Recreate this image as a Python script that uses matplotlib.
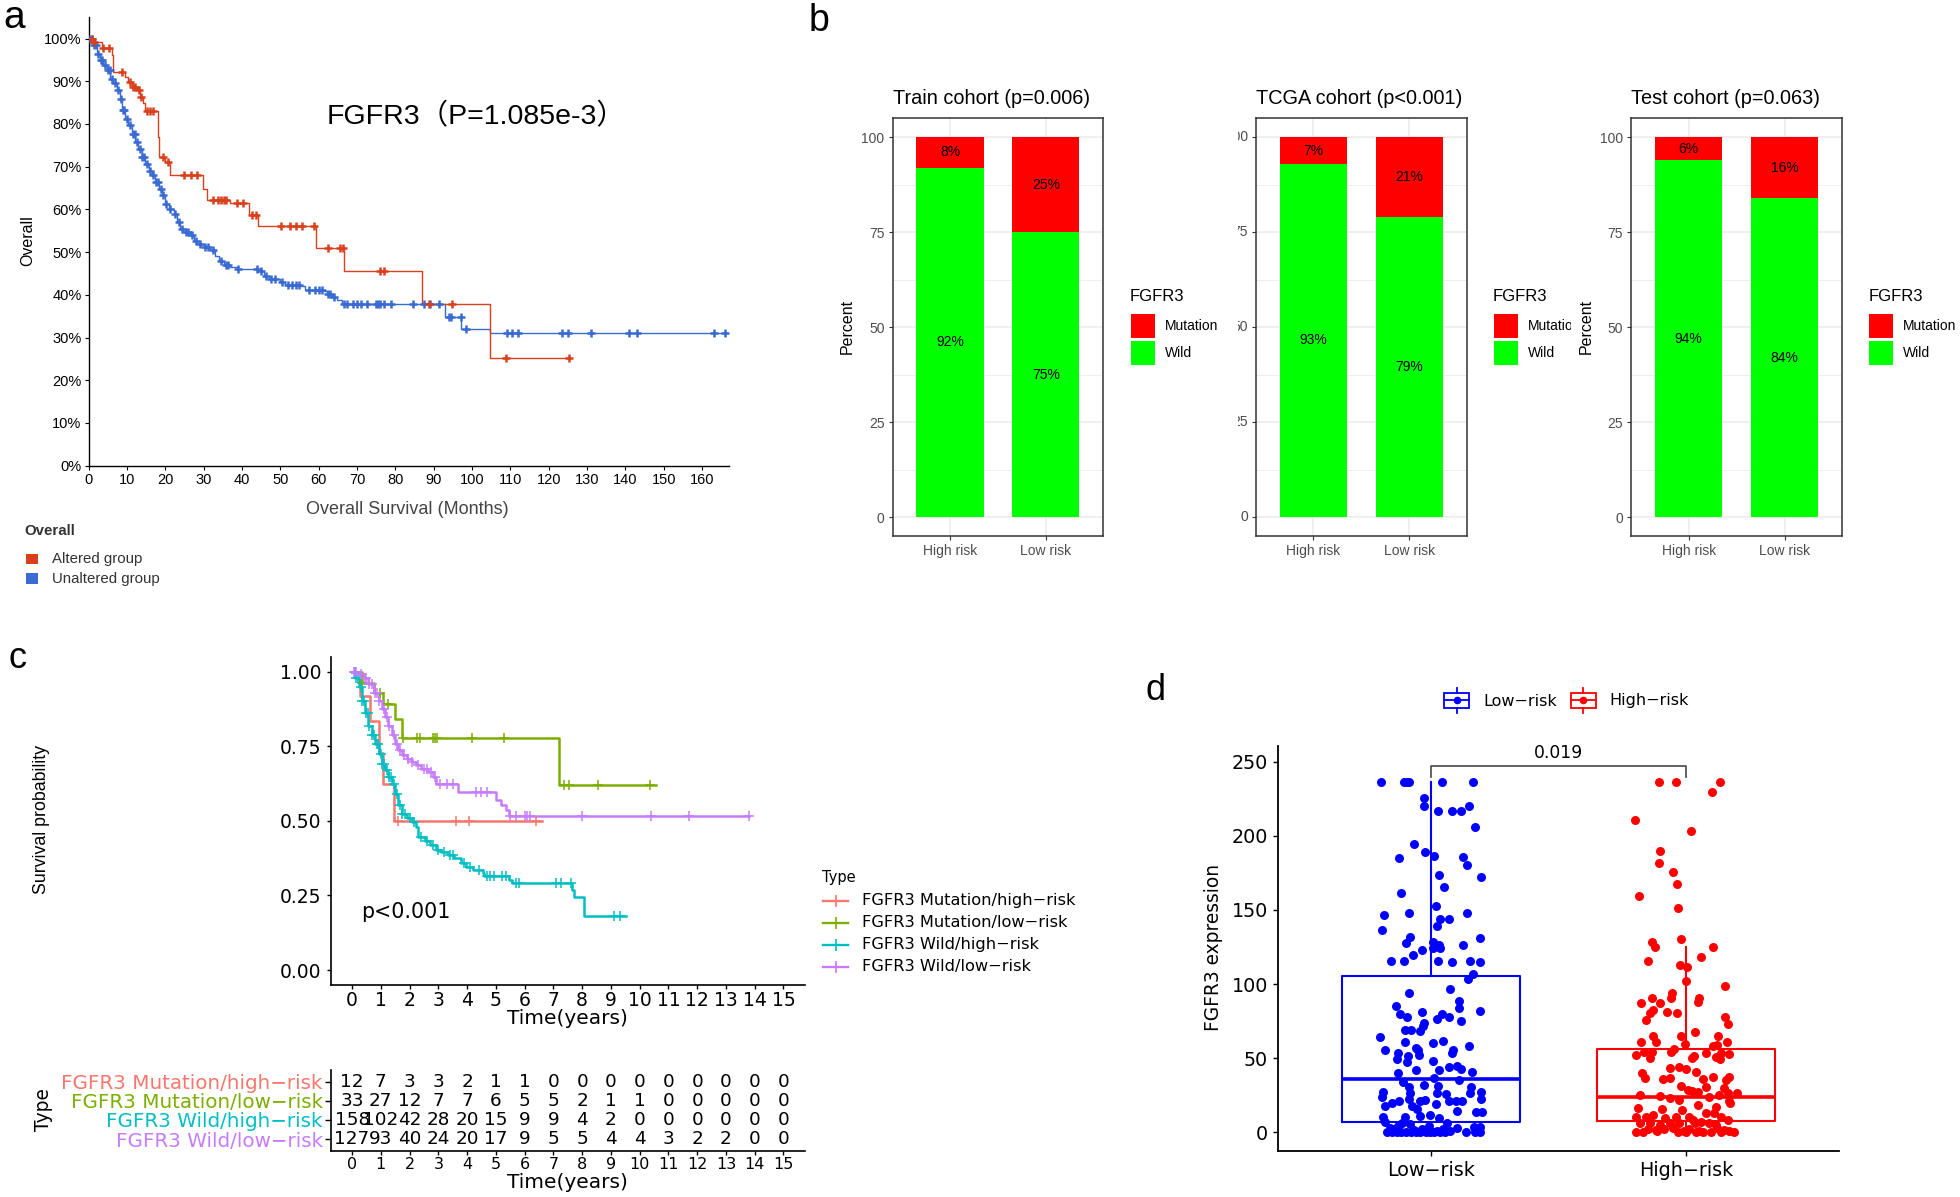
import numpy as np
import matplotlib
matplotlib.use('Agg')
import matplotlib.pyplot as plt
from matplotlib.patches import Rectangle
from matplotlib.lines import Line2D
from matplotlib.transforms import Bbox, blended_transform_factory

plt.rcParams['font.family'] = ['Liberation Sans', 'DejaVu Sans', 'Noto Sans CJK SC']

# ---------------- DATA ----------------
# Panel a (months, % survival)
alt_t = [0, 1.5, 3.5, 6.1, 6.5, 9.6, 10.4, 11.3, 12.6, 13.5, 14.2, 14.8, 18.0, 18.4, 20.0, 21.3,
         29.8, 30.9, 37.0, 41.9, 44.3, 59.3, 66.5, 87.0, 104.6]
alt_s = [100, 99.2, 97.7, 96.1, 92.2, 91.0, 89.8, 88.7, 87.9, 86.3, 84.8, 83.0, 77.0, 72.3, 71.1, 68.0,
         64.8, 62.3, 61.5, 58.6, 56.1, 51.0, 45.5, 37.9, 25.2]
alt_end = 125.3
alt_cens = [1.0, 1.5, 3.7, 5.3, 8.7, 10.9, 11.7, 12.2, 13.1, 13.8, 15.2, 16.0, 16.8, 19.3, 20.8, 24.9,
            26.6, 28.4, 32.4, 33.7, 34.5, 35.3, 35.8, 38.7, 40.3, 42.6, 43.6, 50.1, 52.6, 54.2, 55.7,
            58.9, 62.5, 65.5, 66.3, 76.1, 77.1, 88.8, 94.8, 108.9, 125.3]

unalt_t = [0, 1.3, 2.2, 3.0, 3.9, 4.8, 5.7, 6.5, 7.4, 8.3, 8.7, 9.6, 10.4, 11.3, 12.2, 13.0, 13.9, 14.8,
           15.7, 16.5, 17.4, 18.3, 19.1, 20.0, 20.9, 22.2, 23.0, 23.9, 25.2, 26.5, 27.4, 28.7, 30.0,
           31.7, 33.0, 33.9, 35.2, 37.0, 38.7, 44.3, 45.7, 47.0, 50.0, 51.3, 55.2, 56.5, 61.3, 62.2,
           63.5, 64.8, 66.1, 93.0, 97.1, 104.8]
unalt_s = [100, 98.4, 96.5, 94.9, 93.75, 92.6, 90.6, 89.5, 87.9, 85.9, 83.2, 81.25, 79.7, 77.7, 75.8,
           74.2, 72.3, 70.7, 69.1, 68.0, 66.4, 64.8, 63.3, 61.3, 60.2, 59.0, 57.0, 55.5, 54.7, 53.9,
           52.7, 52.0, 51.3, 50.4, 49.2, 48.0, 46.9, 46.5, 46.1, 45.5, 44.5, 43.6, 43.0, 42.4, 42.0,
           41.2, 40.9, 40.1, 39.6, 38.7, 37.9, 34.9, 32.0, 31.1]
unalt_end = 166.5
unalt_cens = [0.5, 1, 1.5, 2, 2.5, 3.2, 3.6, 4.2, 5, 5.5, 6, 7, 7.8, 8.5, 9, 9.3, 10, 10.8, 11.5, 12,
              12.6, 13.3, 14, 14.5, 15.2, 16, 16.8, 17.6, 18, 18.8, 19.5, 20.3, 21.2, 22.5, 23.5, 24.5,
              25.5, 26, 27, 28, 29, 30.5, 31.2, 32.5, 34.5, 35.8, 36.3, 39, 44, 45, 46.3, 47.5, 48.5,
              50.5, 52, 53, 54, 55, 57.5, 59, 60, 61, 62.5, 63, 64, 66.5, 67.5, 69, 70, 71, 72.5, 75,
              75.5, 76, 77, 79, 84.5, 87.5, 89, 91.5, 94, 94.5, 97, 98.5, 109, 110.5, 112, 123.5, 125,
              131, 141, 143, 163, 166]

# Panel b
cohorts = ['Train cohort (p=0.006)', 'TCGA cohort (p<0.001)', 'Test cohort (p=0.063)']
risk_groups = ['High risk', 'Low risk']
wild_pct = [[92, 75], [93, 79], [94, 84]]
mut_pct = [[8, 25], [7, 21], [6, 16]]

# Panel c (years, survival probability)
km_names = ['FGFR3 Mutation/high\u2212risk', 'FGFR3 Mutation/low\u2212risk',
            'FGFR3 Wild/high\u2212risk', 'FGFR3 Wild/low\u2212risk']
km_colors = ['#F8766D', '#7CAE00', '#00BFC4', '#C77CFF']
mh_t = [0, 0.29, 0.61, 0.92, 1.09, 1.46]
mh_s = [1, 0.917, 0.833, 0.727, 0.623, 0.50]
mh_end = 6.6
mh_cens = [1.59, 3.62, 4.08, 6.4]
ml_t = [0, 0.34, 0.75, 1.09, 1.49, 1.72, 7.18]
ml_s = [1, 0.963, 0.93, 0.893, 0.841, 0.777, 0.621]
ml_end = 10.57
ml_cens = [0.35, 0.98, 1.26, 1.78, 2.26, 2.36, 2.82, 2.88, 2.95, 4.17, 5.29, 7.36, 7.55, 8.56, 10.37]
wh_t = [0, 0.11, 0.23, 0.34, 0.46, 0.57, 0.69, 0.80, 0.92, 1.03, 1.15, 1.26, 1.38, 1.49, 1.61, 1.72,
        1.90, 2.07, 2.22, 2.30, 2.53, 2.70, 2.93, 3.10, 3.33, 3.56, 3.79, 3.97, 4.20, 4.54, 4.60,
        5.46, 5.55, 7.64, 7.70, 8.05]
wh_s = [1, 0.98, 0.947, 0.902, 0.863, 0.819, 0.786, 0.758, 0.724, 0.691, 0.669, 0.647, 0.624, 0.591,
        0.552, 0.524, 0.508, 0.497, 0.48, 0.447, 0.433, 0.419, 0.404, 0.397, 0.386, 0.374, 0.358,
        0.344, 0.336, 0.324, 0.316, 0.302, 0.291, 0.269, 0.244, 0.182]
wh_end = 9.54
wh_cens = [0.1, 0.15, 0.2, 0.3, 0.35, 0.4, 0.5, 0.55, 0.6, 0.7, 0.75, 0.85, 0.9, 1.0, 1.05, 1.1, 1.2,
           1.3, 1.35, 1.45, 1.55, 1.65, 1.75, 1.85, 2.0, 2.15, 2.4, 2.6, 2.8, 3.0, 3.2, 3.4, 3.5, 3.9,
           4.1, 4.4, 4.7, 4.8, 4.95, 5.2, 5.35, 5.7, 5.8, 7.1, 7.25, 7.6, 9.1, 9.3]
wl_t = [0, 0.23, 0.40, 0.57, 0.75, 0.92, 1.03, 1.15, 1.26, 1.38, 1.49, 1.61, 1.72, 1.90, 2.07, 2.24,
        2.41, 2.64, 2.82, 2.93, 3.68, 5.0, 5.17, 5.34, 5.44]
wl_s = [1, 0.993, 0.98, 0.958, 0.93, 0.902, 0.874, 0.847, 0.819, 0.786, 0.758, 0.736, 0.719, 0.708,
        0.697, 0.686, 0.674, 0.663, 0.647, 0.624, 0.597, 0.569, 0.552, 0.536, 0.517]
wl_end = 13.79
wl_cens = [0.05, 0.15, 0.3, 0.45, 0.5, 0.6, 0.7, 0.8, 0.85, 0.95, 1.1, 1.2, 1.3, 1.45, 1.55, 1.65, 1.8,
           1.95, 2.1, 2.3, 2.5, 2.6, 2.75, 2.9, 3.05, 3.3, 3.5, 4.3, 4.5, 4.7, 5.5, 5.7, 6.0, 6.1, 6.2,
           8.0, 10.4, 11.7, 13.8]

risk_times = list(range(16))
risk_mh = [12, 7, 3, 3, 2, 1, 1, 0, 0, 0, 0, 0, 0, 0, 0, 0]
risk_ml = [33, 27, 12, 7, 7, 6, 5, 5, 2, 1, 1, 0, 0, 0, 0, 0]
risk_wh = [158, 102, 42, 28, 20, 15, 9, 9, 4, 2, 0, 0, 0, 0, 0, 0]
risk_wl = [127, 93, 40, 24, 20, 17, 9, 5, 5, 4, 4, 3, 2, 2, 0, 0]

# Panel d
d_groups = ['Low\u2212risk', 'High\u2212risk']
box_q1 = [6.7, 7.9]
box_med = [35.7, 23.6]
box_q3 = [105.4, 56.0]
box_whislo = [0, 0]
box_whishi = [236.5, 124.8]
p_value_d = '0.019'
bracket_y = 247.1
bracket_tip = 239.6

low_off = [-0.194, -0.107, -0.094, -0.085, 0.043, 0.167, -0.027, -0.025, 0.027, 0.082, 0.118, 0.151,
           0.172, -0.065, -0.023, 0.013, -0.124, 0.125, 0.143, 0.197, 0.030, 0.053, -0.117, 0.022,
           -0.182, -0.085, 0.141, 0.070, 0.034, 0.025, -0.193, -0.081, 0.194, -0.096, 0.009, 0.030,
           0.125, 0.008, 0.036, -0.033, -0.070, -0.156, -0.105, 0.026, 0.081, 0.152, 0.194, 0.165,
           0.145, -0.087, 0.076, 0.111, 0.112, 0.194, -0.138, -0.120, -0.092, -0.036, 0.023, 0.044,
           0.070, 0.117, -0.026, -0.031, -0.044, -0.103, -0.078, -0.198, -0.100, 0.010, 0.049, 0.151,
           -0.060, -0.052, 0.086, 0.082, -0.180, -0.128, -0.089, -0.047, -0.132, -0.095, 0.010, 0.073,
           0.102, 0.120, -0.057, 0.031, -0.128, 0.161, 0.014, 0.112, -0.109, -0.086, -0.025, 0.026,
           0.158, -0.188, -0.190, -0.083, 0.023, 0.059, 0.197, 0.154, -0.151, -0.124, -0.086, -0.044,
           -0.023, 0.070, 0.099, 0.121, 0.198, -0.180, -0.073, 0.021, -0.055, 0.103, 0.176, 0.199,
           -0.189, -0.103, -0.044, -0.003, 0.030, 0.064, -0.181, -0.130, 0.102, 0.169, 0.191,
           -0.172, -0.152, -0.133, -0.117, -0.096, -0.078, -0.057, -0.042, -0.021, -0.005, 0.014,
           0.036, 0.057, 0.138, 0.173, 0.193, -0.146, -0.068, -0.034, 0.023, 0.049, -0.159, -0.009,
           -0.081, 0.076, -0.113]
low_val = [236.6, 236.6, 236.6, 236.6, 236.6, 236.6, 225.8, 219.9, 217.0, 216.8, 216.8, 220.1,
           206.2, 194.3, 188.9, 186.4, 184.8, 186.0, 180.3, 172.5, 173.6, 165.7, 161.7, 152.9,
           146.6, 147.7, 148.0, 143.9, 143.7, 139.2, 136.5, 132.0, 131.3, 128.0, 128.6, 126.4,
           126.4, 124.1, 124.1, 123.0, 119.4, 115.6, 115.8, 115.6, 115.1, 115.6, 115.1, 107.0,
           103.2, 93.8, 96.5, 88.8, 83.7, 81.9, 85.0, 79.8, 77.6, 81.2, 76.2, 79.8,
           78.0, 75.3, 73.5, 71.7, 68.4, 69.0, 69.0, 64.5, 61.2, 60.5, 61.6, 58.2,
           56.7, 55.5, 55.5, 53.7, 55.5, 53.7, 51.5, 51.9, 49.2, 47.2, 48.3, 43.8,
           44.7, 42.9, 42.0, 42.0, 39.8, 40.5, 36.9, 35.3, 34.2, 30.8, 31.9, 31.3,
           30.8, 27.0, 24.1, 26.3, 26.3, 25.9, 27.0, 26.3, 20.0, 21.4, 22.3, 21.1,
           21.8, 21.4, 21.1, 21.4, 22.3, 18.0, 17.8, 19.1, 15.5, 14.6, 13.5, 13.5,
           10.6, 10.1, 11.0, 11.7, 9.4, 6.5, 7.2, 4.3, 2.7, 3.4, 3.8,
           0.4, 0.3, 0.5, 0.4, 0.3, 0.5, 0.4, 0.3, 0.5, 0.4, 0.3,
           0.5, 0.4, 0.3, 0.5, 0.4, 2.0, 1.5, 2.5, 1.2, 2.2, 3.0, 4.5,
           5.5, 1.0, 6.0]

high_off = [-0.108, -0.039, 0.133, 0.103, -0.200, 0.020, -0.102, -0.105, -0.051, -0.034, -0.185,
            -0.030, -0.022, -0.133, -0.122, 0.105, 0.057, -0.148, -0.025, 0.004, -0.001, 0.154,
            -0.135, -0.061, -0.055, 0.052, 0.047, -0.104, -0.177, -0.130, -0.140, -0.076, -0.035,
            -0.156, 0.151, 0.165, 0.036, -0.130, -0.020, 0.124, -0.178, -0.120, -0.005, 0.159,
            0.120, 0.107, -0.195, -0.164, -0.133, -0.143, -0.061, -0.046, 0.024, 0.076, 0.168,
            0.138, 0.029, 0.133, 0.117, -0.174, -0.163, -0.065, -0.029, 0.000, 0.039, -0.091,
            -0.063, 0.107, 0.065, 0.169, 0.156, -0.020, 0.078, 0.150, -0.182, -0.104, 0.009,
            0.047, 0.023, 0.198, 0.163, 0.130, 0.091, -0.065, -0.026, 0.169, 0.172, -0.190,
            -0.096, -0.018, 0.117, 0.046, -0.198, -0.159, -0.130, -0.081, -0.039, 0.013, 0.078,
            0.111, 0.137, 0.163, 0.026, 0.059, -0.182, -0.143, -0.104, -0.065, -0.026, 0.033,
            0.091, 0.117, -0.198, -0.169, -0.115, -0.033, 0.000, 0.039, -0.007, 0.065, 0.098,
            0.137, 0.169, 0.189, -0.150, -0.085, -0.050, 0.010, 0.120, 0.150, -0.120, 0.050]
high_val = [236.6, 236.6, 236.6, 229.8, 210.7, 203.5, 190.0, 181.7, 175.8, 167.5, 159.7,
            151.1, 130.4, 128.4, 124.8, 124.8, 118.1, 115.6, 113.1, 111.3, 102.3, 98.5,
            90.8, 90.4, 93.8, 90.4, 88.1, 87.0, 87.0, 82.5, 80.3, 81.4, 80.3,
            75.8, 77.6, 73.1, 67.9, 65.2, 65.0, 65.0, 60.7, 60.7, 59.6, 60.7,
            58.9, 58.2, 52.2, 54.4, 54.0, 49.9, 54.4, 56.2, 49.9, 53.3, 52.8,
            53.7, 51.5, 49.2, 51.0, 40.3, 36.4, 43.2, 43.8, 42.7, 40.9, 35.8,
            36.4, 37.5, 36.0, 37.5, 35.3, 31.3, 30.8, 29.7, 25.2, 24.7, 28.6,
            27.4, 27.9, 26.8, 26.3, 25.2, 24.1, 22.9, 21.8, 21.4, 19.6, 16.2,
            15.5, 15.1, 17.3, 18.4, 10.6, 10.6, 11.7, 9.4, 10.1, 10.1, 13.3,
            12.8, 10.1, 8.3, 8.3, 7.2, 6.1, 6.1, 4.9, 6.5, 6.1, 6.5,
            6.1, 4.9, 0.5, 0.3, 0.6, 0.4, 0.5, 0.3, 0.6, 0.4, 0.5,
            0.3, 0.6, 0.4, 2.5, 2.0, 3.0, 2.2, 2.8, 1.5, 1.8, 1.2]

# ---------------- FIGURE ----------------
W, H = 1960, 1197
fig = plt.figure(figsize=(W / 100, H / 100), dpi=100)
DJ = 'DejaVu Sans'


def add_ax(l, t, r, b):
    return fig.add_axes([l / W, 1 - b / H, (r - l) / W, (b - t) / H])


def ftext(x, y, s, **kw):
    return fig.text(x / W, 1 - y / H, s, **kw)


def frect(x0, y0, x1, y1, **kw):
    r = Rectangle((x0 / W, 1 - y1 / H), (x1 - x0) / W, (y1 - y0) / H, transform=fig.transFigure, **kw)
    fig.add_artist(r)
    return r


def fline(xs, ys, **kw):
    ln = Line2D([x / W for x in xs], [1 - y / H for y in ys], transform=fig.transFigure, **kw)
    fig.add_artist(ln)
    return ln


def surv_at(t, s, c):
    idx = np.searchsorted(np.asarray(t), np.asarray(c), side='right') - 1
    return np.asarray(s)[idx]


def km(ax, t, s, end, cens, color, lw, ms, mew):
    ax.step(list(t) + [end], list(s) + [s[-1]], where='post', color=color, lw=lw, zorder=3)
    ax.plot(cens, surv_at(t, s, cens), ls='none', marker='+', color=color, ms=ms, mew=mew, zorder=4)


# ---------- Panel a ----------
red_a, blue_a = '#D9401C', '#3A6BD2'
ax = add_ax(88.5, 17.2, 729.4, 465.7)
km(ax, unalt_t, unalt_s, unalt_end, unalt_cens, blue_a, 1.0, 6, 1.8)
km(ax, alt_t, alt_s, alt_end, alt_cens, red_a, 1.0, 6, 1.8)
ax.set_xlim(0, 167.1)
ax.set_ylim(0, 105)
for sp in ['top', 'right']:
    ax.spines[sp].set_visible(False)
for sp in ['left', 'bottom']:
    ax.spines[sp].set_linewidth(1.0)
ax.set_xticks(range(0, 161, 10))
ax.set_yticks(range(0, 101, 10))
ax.set_yticklabels([f'{v}%' for v in range(0, 101, 10)])
ax.tick_params(length=3, width=0.8, labelsize=10.5, pad=2)
ftext(476, 116.7, 'FGFR3\uff08P=1.085e-3\uff09', fontsize=20.5, ha='center', va='center',
      family=['Liberation Sans', 'Noto Sans CJK SC'])
ftext(407, 509, 'Overall Survival (Months)', fontsize=13, ha='center', va='center', color='#444444')
ftext(27.3, 241, 'Overall', fontsize=11.5, rotation=90, ha='center', va='center')
ftext(24, 531, 'Overall', fontsize=10.8, fontweight='bold', ha='left', va='center', color='#333333')
frect(26.3, 553.7, 38.3, 564.4, color=red_a, lw=0)
frect(26.3, 573.2, 38.3, 584.0, color=blue_a, lw=0)
ftext(51.7, 559, 'Altered group', fontsize=10.8, ha='left', va='center', color='#333333')
ftext(51.7, 578.6, 'Unaltered group', fontsize=10.8, ha='left', va='center', color='#333333')

# ---------- Panel b ----------
panel_lr = [(892.5, 1103.3), (1255.7, 1466.8), (1631.1, 1842.1)]
leg_x = [1130.7, 1493.6, 1869.0]
clip_regions = [(0, 1235), (1238, 1571), (1571, W)]
for k in range(3):
    l, r = panel_lr[k]
    ax = add_ax(l, 118.3, r, 536)
    xs = np.arange(1, 3)
    ax.bar(xs, wild_pct[k], 0.7, color='#00FF00', zorder=2)
    ax.bar(xs, mut_pct[k], 0.7, bottom=wild_pct[k], color='#FF0000', zorder=2)
    for i in range(2):
        ax.text(xs[i], wild_pct[k][i] / 2, f'{wild_pct[k][i]}%', ha='center', va='center', fontsize=10, zorder=3)
        ax.text(xs[i], wild_pct[k][i] + mut_pct[k][i] / 2, f'{mut_pct[k][i]}%', ha='center', va='center',
                fontsize=10, zorder=3)
    ax.set_xlim(0.4, 2.6)
    ax.set_ylim(-5, 105)
    ax.set_xticks(xs)
    ax.set_xticklabels(risk_groups)
    ax.set_yticks([0, 25, 50, 75, 100])
    ax.set_yticks([12.5, 37.5, 62.5, 87.5], minor=True)
    ax.grid(True, which='major', color='#EBEBEB', lw=1.1)
    ax.grid(True, which='minor', axis='y', color='#EBEBEB', lw=0.6)
    ax.set_axisbelow(True)
    for sp in ax.spines.values():
        sp.set_color('#333333')
        sp.set_linewidth(1.1)
    ax.tick_params(which='major', length=2.7, width=0.8, color='#333333', labelcolor='#4D4D4D',
                   labelsize=10, pad=3)
    ax.tick_params(which='minor', length=0)
    cb = Bbox([[clip_regions[k][0], 0], [clip_regions[k][1], H]])
    if k == 1:
        ax.set_yticklabels([])
        tr = blended_transform_factory(fig.transFigure, ax.transData)
        for v in [0, 25, 50, 75, 100]:
            tt = fig.text((l - 7.8) / W, v, str(v), transform=tr, ha='right', va='center',
                          fontsize=10, color='#4D4D4D')
            tt.set_clip_box(cb)
            tt.set_clip_on(True)
    else:
        ftext(l - 44.8, 326.7, 'Percent', rotation=90, ha='center', va='center', fontsize=11.5)
    ftext(l, 98.3, cohorts[k], ha='left', va='center', fontsize=14.3)
    lx = leg_x[k]
    ftext(lx - 0.7, 296.7, 'FGFR3', ha='left', va='center', fontsize=12)
    frect(lx, 314, lx + 24.4, 337.7, color='#FF0000', lw=0)
    frect(lx, 340.7, lx + 24.4, 364.7, color='#00FF00', lw=0)
    for lab, yy in [('Mutation', 326), ('Wild', 353)]:
        tt = ftext(lx + 34, yy, lab, ha='left', va='center', fontsize=10)
        tt.set_clip_box(cb)
        tt.set_clip_on(True)

# ---------- Panel c ----------
ax = add_ax(330.5, 656.7, 805, 985)
km_data = [(mh_t, mh_s, mh_end, mh_cens), (ml_t, ml_s, ml_end, ml_cens),
           (wh_t, wh_s, wh_end, wh_cens), (wl_t, wl_s, wl_end, wl_cens)]
for (t, s, e, c), col in zip(km_data, km_colors):
    km(ax, t, s, e, c, col, 1.8, 7, 1.1)
ax.set_xlim(-0.75, 15.75)
ax.set_ylim(-0.05, 1.05)
for sp in ['top', 'right']:
    ax.spines[sp].set_visible(False)
for sp in ['left', 'bottom']:
    ax.spines[sp].set_linewidth(1.2)
ax.set_xticks(risk_times)
ax.set_yticks([0, 0.25, 0.5, 0.75, 1.0])
ax.set_yticklabels(['0.00', '0.25', '0.50', '0.75', '1.00'])
ax.tick_params(length=3, width=1.0, labelsize=13.5, pad=1.5)
for lab in ax.get_xticklabels() + ax.get_yticklabels():
    lab.set_family(DJ)
ax.tick_params(axis='y', pad=3.7)
ftext(360.7, 911.7, 'p<0.001', ha='left', va='center', fontsize=14.8, family=DJ)
ftext(567.5, 1019, 'Time(years)', ha='center', va='center', fontsize=14.5, family=DJ)
ftext(42, 820, 'Survival probability', rotation=90, ha='center', va='center', fontsize=12.8)
ftext(821.7, 877.3, 'Type', ha='left', va='center', fontsize=10.5, family=DJ)
for i, (nm, col) in enumerate(zip(km_names, km_colors)):
    yy = [901, 922.7, 944.7, 966.7][i]
    fline([822.7, 848.3], [yy, yy], color=col, lw=1.7)
    fline([835.5], [yy], color=col, marker='+', ms=8, mew=1.2, ls='none')
    ftext(861.7, yy, nm, ha='left', va='center', fontsize=11.7, family=DJ)

# risk table
ax = add_ax(330.5, 1070, 805, 1150.7)
ax.set_xlim(-0.75, 15.75)
ax.set_ylim(0.4, 4.6)
for row, vals in zip([4, 3, 2, 1], [risk_mh, risk_ml, risk_wh, risk_wl]):
    for t, n in zip(risk_times, vals):
        ax.text(t, row, str(n), ha='center', va='center', fontsize=13.2, family=DJ)
for sp in ['top', 'right']:
    ax.spines[sp].set_visible(False)
for sp in ['left', 'bottom']:
    ax.spines[sp].set_linewidth(1.2)
ax.set_yticks([4, 3, 2, 1])
ax.set_yticklabels(km_names)
for lab, col in zip(ax.get_yticklabels(), km_colors):
    lab.set_color(col)
    lab.set_family(DJ)
    lab.set_fontsize(14.3)
ax.set_xticks(risk_times)
ax.tick_params(axis='x', length=3, width=1.0, labelsize=11.5, pad=1.5)
ax.tick_params(axis='y', length=4, width=1.0, pad=1.5)
for lab in ax.get_xticklabels():
    lab.set_family(DJ)
ftext(567.5, 1183, 'Time(years)', ha='center', va='center', fontsize=14.5, family=DJ)
ftext(43.3, 1110, 'Type', rotation=90, ha='center', va='center', fontsize=13.4, family=DJ)

# ---------- Panel d ----------
ax = add_ax(1277.7, 745.7, 1839.3, 1150.7)
d_cols = ['#0000FF', '#FF0000']
stats = []
for i in range(2):
    stats.append(dict(med=box_med[i], q1=box_q1[i], q3=box_q3[i], whislo=box_whislo[i],
                      whishi=box_whishi[i], fliers=[], label=d_groups[i]))
bp = ax.bxp(stats, positions=[1, 2], widths=0.7, showfliers=False, showcaps=False,
            boxprops=dict(lw=1.5), whiskerprops=dict(lw=1.5), medianprops=dict(lw=2.6))
for i in range(2):
    bp['boxes'][i].set_color(d_cols[i])
    bp['medians'][i].set_color(d_cols[i])
    for w in bp['whiskers'][2 * i:2 * i + 2]:
        w.set_color(d_cols[i])
ax.scatter(1 + np.asarray(low_off), low_val, s=42, color=d_cols[0], linewidths=0, zorder=4)
ax.scatter(2 + np.asarray(high_off), high_val, s=42, color=d_cols[1], linewidths=0, zorder=4)
ax.plot([1, 1, 2, 2], [bracket_tip, bracket_y, bracket_y, bracket_tip], color='#555555', lw=1.3)
ax.text(1.5, 255.7, p_value_d, ha='center', va='center', fontsize=12.3, family=DJ)
ax.set_xlim(0.4, 2.6)
ax.set_ylim(-12.4, 260.8)
for sp in ['top', 'right']:
    ax.spines[sp].set_visible(False)
for sp in ['left', 'bottom']:
    ax.spines[sp].set_linewidth(1.3)
ax.set_yticks(range(0, 251, 50))
ax.set_xticks([1, 2])
ax.set_xticklabels(d_groups)
ax.tick_params(length=3.6, width=1.0, labelsize=13.8, pad=3.5)
for lab in ax.get_xticklabels() + ax.get_yticklabels():
    lab.set_family(DJ)
ftext(1213.3, 947.5, 'FGFR3 expression', rotation=90, ha='center', va='center', fontsize=13.4, family=DJ)
# legend d
for cx, col, lab, lx in [(1456.8, d_cols[0], d_groups[0], 1483), (1583.1, d_cols[1], d_groups[1], 1609.7)]:
    frect(cx - 12.4, 692.5, cx + 12.4, 708, fill=False, edgecolor=col, lw=1.3)
    fline([cx, cx], [688, 692.5], color=col, lw=1.3)
    fline([cx, cx], [708, 713], color=col, lw=1.3)
    fline([cx - 12.4, cx + 12.4], [700.2, 700.2], color=col, lw=1.3)
    fline([cx], [700.2], color=col, marker='o', ms=5.5, mew=0, ls='none')
    ftext(lx, 701, lab, ha='left', va='center', fontsize=11.5, family=DJ)

# ---------- panel letters ----------
ftext(14.3, 17.5, 'a', fontsize=28, ha='center', va='center')
ftext(819, 21, 'b', fontsize=27, ha='center', va='center')
ftext(17.5, 659, 'c', fontsize=26, ha='center', va='center')
ftext(1155, 690, 'd', fontsize=26, ha='center', va='center')

fig.savefig('out.png', dpi=100)
